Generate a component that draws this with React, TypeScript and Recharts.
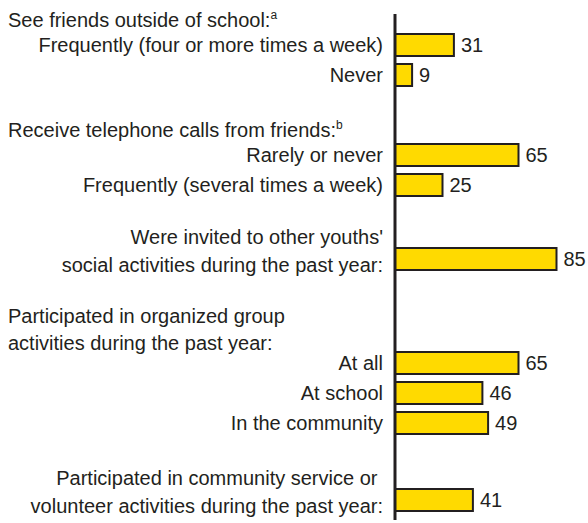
import { BarChart, Bar, XAxis, YAxis, LabelList } from "recharts";

// row labels ("\n" splits a label over two lines)
const rowLabels = [
  "Frequently (four or more times a week)",
  "Never",
  "Rarely or never",
  "Frequently (several times a week)",
  "Were invited to other youths'\nsocial activities during the past year:",
  "At all",
  "At school",
  "In the community",
  "Participated in community service or\u00a0\nvolunteer activities during the past year:",
];
const percents = [31, 9, 65, 25, 85, 65, 46, 49, 41];

// groups of rows, with their left-aligned titles and footnote marks
const groupTitles = [
  ["See friends outside of school:"],
  ["Receive telephone calls from friends:"],
  [],
  ["Participated in organized group", "activities during the past year:"],
  [],
];
const groupNotes = ["a", "b", "", "", ""];
const groupRows = [[0, 1], [2, 3], [4], [5, 6, 7], [8]];

const INK = "#231F20";
const YELLOW = "#FFDA00";
const FONT = "'Liberation Sans', Arial, Helvetica, sans-serif";
const AXIS_X = 395;

// vertical layout of each block: chart height, margins, band padding, title offset
const blocks = [
  { h: 100, mt: 14, mb: 0, pt: 16, pb: 10, titleDy: -18 },
  { h: 112, mt: 0, mb: 0, pt: 40, pb: 12, titleDy: -18 },
  { h: 73, mt: 0, mb: 0, pt: 32, pb: 11, titleDy: 0 },
  { h: 165, mt: 0, mb: 0, pt: 63, pb: 12, titleDy: -13 },
  { h: 73, mt: 0, mb: 3, pt: 35, pb: 5, titleDy: 0 },
];

const makeTick = (g: number) => (props: any) => {
  const { y, payload, index } = props;
  const lines = String(payload.value).split("\n");
  const titles = groupTitles[g];
  const note = groupNotes[g];
  const labelX = AXIS_X - 12;
  return (
    <g>
      {index === 0 &&
        titles.map((t, i) => (
          <text
            key={"t" + i}
            x={8}
            y={y + blocks[g].titleDy - (titles.length - 1 - i) * 27}
            fontSize={20}
            fontFamily={FONT}
            fill={INK}
            textAnchor="start"
          >
            {t}
            {i === titles.length - 1 && note ? (
              <tspan fontSize={12} dy={-8}>
                {note}
              </tspan>
            ) : null}
          </text>
        ))}
      {lines.length === 1 ? (
        <text x={labelX} y={y + 7} fontSize={20} fontFamily={FONT} fill={INK} textAnchor="end">
          {lines[0]}
        </text>
      ) : (
        lines.map((l, i) => (
          <text
            key={"l" + i}
            x={labelX}
            y={y + (i === 0 ? -15 : 13)}
            fontSize={20}
            fontFamily={FONT}
            fill={INK}
            textAnchor="end"
            style={{ whiteSpace: "pre" }}
          >
            {l}
          </text>
        ))
      )}
    </g>
  );
};

export default function App() {
  return (
    <div style={{ position: "absolute", left: 0, top: 0, width: 588, background: "#fff" }}>
      {groupRows.map((rows, g) => {
        const data = rows.map((r) => ({ name: rowLabels[r], value: percents[r] }));
        const b = blocks[g];
        return (
          <BarChart
            key={g}
            layout="vertical"
            width={588}
            height={b.h}
            data={data}
            margin={{ top: b.mt, right: 3, bottom: b.mb, left: 0 }}
          >
            <XAxis type="number" domain={[0, 100]} hide />
            <YAxis
              type="category"
              dataKey="name"
              width={AXIS_X}
              interval={0}
              tickLine={false}
              axisLine={{ stroke: INK, strokeWidth: 3 }}
              padding={{ top: b.pt, bottom: b.pb }}
              tick={makeTick(g)}
            />
            <Bar
              dataKey="value"
              fill={YELLOW}
              stroke={INK}
              strokeWidth={2}
              barSize={22}
              isAnimationActive={false}
            >
              <LabelList
                dataKey="value"
                position="right"
                offset={7}
                fontSize={20}
                fontFamily={FONT}
                fill={INK}
              />
            </Bar>
          </BarChart>
        );
      })}
    </div>
  );
}
